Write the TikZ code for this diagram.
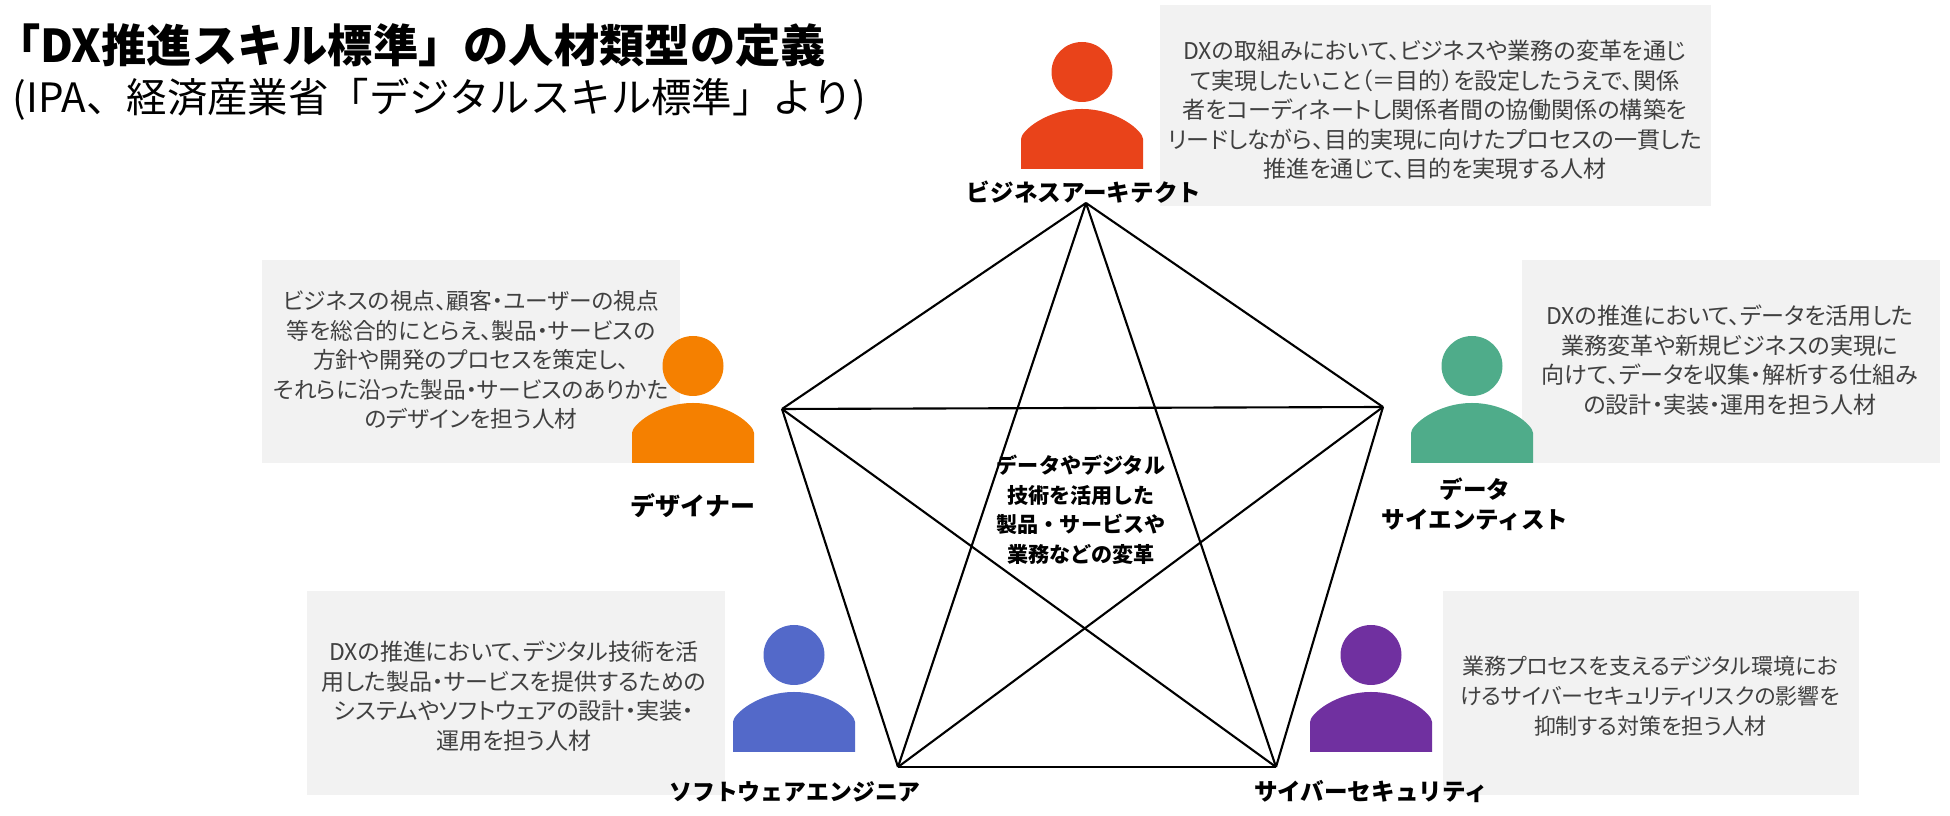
\documentclass[tikz,border=0pt]{standalone}
\usepackage{fontspec}
\setmainfont{Noto Sans CJK JP}
\newfontfamily\infofont{Noto Sans CJK JP}[RawFeature=+palt]
\usetikzlibrary{positioning}
\definecolor{panel}{RGB}{242,242,242}
\definecolor{bodytext}{RGB}{64,64,64}
\definecolor{archred}{RGB}{233,67,26}
\definecolor{designorange}{RGB}{245,128,0}
\definecolor{datagreen}{RGB}{79,172,138}
\definecolor{softblue}{RGB}{83,105,201}
\definecolor{cyberpurple}{RGB}{112,48,160}
\tikzset{
  pics/person/.style={code={
    \fill[#1] (0,30) ellipse (30.5 and 30);
    \fill[#1] (-61,127) -- (-61,97) .. controls (-61,89) and (-35,67) .. (0,67)
      .. controls (35,67) and (61,89) .. (61,97) -- (61,127) -- cycle;
  }},
  infotext/.style={inner sep=0pt, align=center, text=bodytext, font=\infofont\fontsize{6.55}{8.4}\selectfont},
  rolelabel/.style={inner sep=0pt, align=center, font=\fontsize{6.7}{8.6}\selectfont\bfseries},
  link/.style={black, line width=0.6pt}
}
\begin{document}
\begin{tikzpicture}[x=0.01cm, y=-0.01cm]
  \useasboundingbox (0,0) rectangle (1950,816);
  % panels
  \fill[panel] (1160,5) rectangle (1711,206);
  \fill[panel] (262,260) rectangle (680,463);
  \fill[panel] (1522,260) rectangle (1940,463);
  \fill[panel] (307,591) rectangle (725,795);
  \fill[panel] (1443,591) rectangle (1859,795);
  % heading
  \node[anchor=west, inner sep=0pt, font=\fontsize{12.87}{14}\selectfont\bfseries] (heading) at (17,45) {{\infofont 「}DX推進スキル標準」の人材類型の定義};
  \node[anchor=west, inner sep=0pt, font=\fontsize{11.5}{14}\selectfont] (subheading) at (12,99) {(IPA、経済産業省「デジタルスキル標準」より)};
  % people
  \pic at (1082,42) {person=archred};
  \pic at (693,336) {person=designorange};
  \pic at (1472,336) {person=datagreen};
  \pic at (794,625) {person=softblue};
  \pic at (1371,625) {person=cyberpurple};
  % pentagon corners
  \coordinate (arch) at (1086,203);
  \coordinate (design) at (782,409);
  \coordinate (data) at (1383,407);
  \coordinate (soft) at (898,767);
  \coordinate (cyber) at (1276,767);
  \foreach \a/\b in {arch/design,arch/data,arch/soft,arch/cyber,design/data,design/soft,design/cyber,data/soft,data/cyber,soft/cyber} {
    \draw[link] (\a) -- (\b);
  }
  % descriptions
  \node[infotext] (archtext) at (1435,110) {DXの取組みにおいて、ビジネスや業務の変革を通じ\\て実現したいこと（＝目的）を設定したうえで、関係\\者をコーディネートし関係者間の協働関係の構築を\\リードしながら、目的実現に向けたプロセスの一貫した\\推進を通じて、目的を実現する人材};
  \node[infotext, font=\infofont\fontsize{6.45}{8.4}\selectfont] (designtext) at (471,360) {ビジネスの視点、顧客・ユーザーの視点\\等を総合的にとらえ、製品・サービスの\\方針や開発のプロセスを策定し、\\それらに沿った製品・サービスのありかた\\のデザインを担う人材};
  \node[infotext] (datatext) at (1730,360) {DXの推進において、データを活用した\\業務変革や新規ビジネスの実現に\\向けて、データを収集・解析する仕組み\\の設計・実装・運用を担う人材};
  \node[infotext] (softtext) at (514,696) {DXの推進において、デジタル技術を活\\用した製品・サービスを提供するための\\システムやソフトウェアの設計・実装・\\運用を担う人材};
  \node[infotext, font=\infofont\fontsize{6.25}{8.4}\selectfont] (cybertext) at (1650,696) {業務プロセスを支えるデジタル環境にお\\けるサイバーセキュリティリスクの影響を\\抑制する対策を担う人材};
  % role names
  \node[rolelabel] (archname) at (1084,192) {ビジネスアーキテクト};
  \node[rolelabel, font=\fontsize{7.1}{8.6}\selectfont\bfseries] (designname) at (693,506) {デザイナー};
  \node[rolelabel] (dataname) at (1475,504) {データ\\サイエンティスト};
  \node[rolelabel, font=\fontsize{6.5}{8.6}\selectfont\bfseries] (softname) at (795,792) {ソフトウェアエンジニア};
  \node[rolelabel] (cybername) at (1371,792) {サイバーセキュリティ};
  \node[rolelabel, font=\fontsize{6}{8.4}\selectfont\bfseries] (centertext) at (1081,510) {データやデジタル\\技術を活用した\\製品・サービスや\\業務などの変革};
\end{tikzpicture}
\end{document}
